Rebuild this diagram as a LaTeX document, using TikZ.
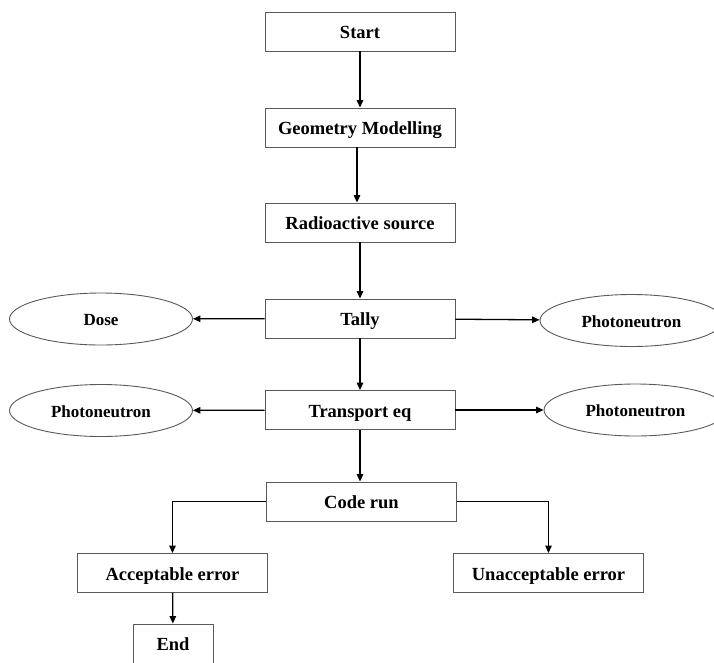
\documentclass[tikz,border=0pt]{standalone}
\usepackage{fontspec}
\setmainfont{Liberation Serif}
\usetikzlibrary{arrows.meta,shapes.geometric}
\begin{document}
\begin{tikzpicture}[x=1pt,y=-1pt,
  caja/.style={draw=black!65,line width=0.9pt,minimum width=190pt,minimum height=39pt,inner sep=0pt,text height=18pt,text depth=4pt,font=\fontsize{18.5}{22}\selectfont\bfseries},
  elipse/.style={draw=black!65,ellipse,line width=0.9pt,minimum width=183pt,minimum height=52pt,inner sep=0pt,text height=17pt,text depth=3.5pt,font=\fontsize{17}{20}\selectfont\bfseries},
  flecha/.style={line width=1.3pt,-{Triangle[length=7.5pt,width=6.5pt]}}]
% Marco
\useasboundingbox (0,0) rectangle (714,662);
\clip (0,0) rectangle (714,662);
% Cajas
\node[caja] (Start) at (360,31.5) {Start};
\node[caja] (Geometry) at (360,127.5) {Geometry Modelling};
\node[caja] (Source) at (360,222.5) {Radioactive source};
\node[caja] (Tally) at (360,318.5) {Tally};
\node[caja] (Transport) at (360,410) {Transport eq};
\node[caja] (Run) at (361.5,501.5) {Code run};
\node[caja] (Acceptable) at (172.5,573) {Acceptable error};
\node[caja] (Unacceptable) at (548.5,573) {Unacceptable error};
\node[caja,minimum width=80pt] (End) at (173,643.5) {End};
% Elipses
\node[elipse] (Dose) at (101,319) {Dose};
\node[elipse] (PhotonA) at (631.5,320.5) {Photoneutron};
\node[elipse] (PhotonB) at (101,410.5) {Photoneutron};
\node[elipse] (PhotonC) at (635.5,410) {Photoneutron};
% Flechas
\draw[flecha] (Start) -- (Geometry);
\draw[flecha] ([xshift=-3pt]Geometry.south) -- ([xshift=-3pt]Source.north);
\draw[flecha] (Source) -- (Tally);
\draw[flecha] (Tally) -- (Transport);
\draw[flecha] (Transport) -- (Run.north -| Transport);
\draw[flecha] (Tally) -- (Dose);
\draw[flecha] (Tally) -- (PhotonA);
\draw[flecha] (Transport) -- (PhotonB);
\draw[flecha] (Transport) -- (PhotonC);
\draw[flecha] (Run.west) -| (Acceptable.north);
\draw[flecha] (Run.east) -| (Unacceptable.north);
\draw[flecha] (Acceptable) -- (End);
\end{tikzpicture}
\end{document}
